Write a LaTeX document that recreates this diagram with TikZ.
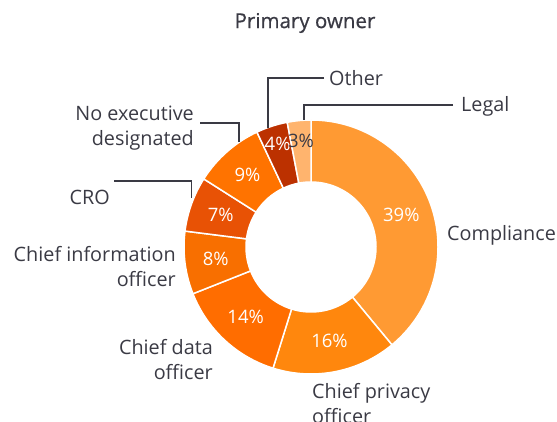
\documentclass[tikz,border=0pt]{standalone}
\usepackage{fontspec}
\setmainfont{Open Sans}
\usetikzlibrary{positioning}
\definecolor{inkgray}{HTML}{3A3A44}
\definecolor{complcol}{HTML}{FF9A33}
\definecolor{privcol}{HTML}{FF870D}
\definecolor{datacol}{HTML}{FF6D00}
\definecolor{ciocol}{HTML}{F86F00}
\definecolor{crocol}{HTML}{E85205}
\definecolor{noexeccol}{HTML}{FF7300}
\definecolor{othercol}{HTML}{BC3100}
\definecolor{legalcol}{HTML}{FFB46E}
\tikzset{slice/.style={draw=white,line width=1.5pt,line join=round}}
\tikzset{pct/.style={text=white,inner sep=0pt,
font=\fontsize{18.5}{22}\selectfont}}
\tikzset{lbl/.style={text=inkgray,inner sep=0pt,
font=\fontsize{19.8}{25}\selectfont}}
\tikzset{leader/.style={draw=inkgray,line width=1.2pt}}

\begin{document}
\begin{tikzpicture}[x=1pt,y=1pt]
    \useasboundingbox (0,0) rectangle (557,421);

    \node[lbl,font=\fontsize{20.5}{25}\selectfont\addfontfeature{FakeBold=0.6}] (title) at (305,398) {Primary owner};

    \begin{scope}[shift={(311,174)}]
        \filldraw[slice,fill=complcol] (90:127) arc[start angle=90,end angle=-50.4,radius=127]
            -- (-50.4:65) arc[start angle=-50.4,end angle=90,radius=65] -- cycle;
        \filldraw[slice,fill=privcol] (-50.4:127) arc[start angle=-50.4,end angle=-107.4,radius=127]
            -- (-107.4:65) arc[start angle=-107.4,end angle=-50.4,radius=65] -- cycle;
        \filldraw[slice,fill=datacol] (-107.4:127) arc[start angle=-107.4,end angle=-158.4,radius=127]
            -- (-158.4:65) arc[start angle=-158.4,end angle=-107.4,radius=65] -- cycle;
        \filldraw[slice,fill=ciocol] (-158.4:127) arc[start angle=-158.4,end angle=-187.2,radius=127]
            -- (-187.2:65) arc[start angle=-187.2,end angle=-158.4,radius=65] -- cycle;
        \filldraw[slice,fill=crocol] (-187.2:127) arc[start angle=-187.2,end angle=-212.4,radius=127]
            -- (-212.4:65) arc[start angle=-212.4,end angle=-187.2,radius=65] -- cycle;
        \filldraw[slice,fill=noexeccol] (-212.4:127) arc[start angle=-212.4,end angle=-244.8,radius=127]
            -- (-244.8:65) arc[start angle=-244.8,end angle=-212.4,radius=65] -- cycle;
        \filldraw[slice,fill=othercol] (-244.8:127) arc[start angle=-244.8,end angle=-259.2,radius=127]
            -- (-259.2:65) arc[start angle=-259.2,end angle=-244.8,radius=65] -- cycle;
        \filldraw[slice,fill=legalcol] (-259.2:127) arc[start angle=-259.2,end angle=-270,radius=127]
            -- (-270:65) arc[start angle=-270,end angle=-259.2,radius=65] -- cycle;

        \node[pct] (pctcompl) at (19.8:96) {39\%};
        \node[pct] (pctpriv) at (-78.9:96) {16\%};
        \node[pct] (pctdata) at (-132.9:96) {14\%};
        \node[pct] (pctcio) at (-172.8:96) {8\%};
        \node[pct] (pctcro) at (-199.8:96) {7\%};
        \node[pct] (pctnoexec) at (-228.6:96) {9\%};
        \node[pct] (pctother) at (-252:108) {4\%};
        \node[pct,text=inkgray] (pctlegal) at (-264.6:107) {3\%};

        \coordinate (legalpt) at (93.2:127);
        \coordinate (otherpt) at (109.8:127);
        \coordinate (noexecpt) at (124.5:127);
        \coordinate (cropt) at (157.6:129);
    \end{scope}

    % labels round the ring
    \node[lbl,anchor=west] (legal) at (461,314.5) {Legal};
    \node[lbl,anchor=west] (other) at (329,343) {Other};
    \node[lbl,anchor=north east,align=right] (noexec) at (194,315.5) {No executive\\designated};
    \node[lbl,anchor=east] (cro) at (110,224) {CRO};
    \node[lbl,anchor=north east,align=right] (cio) at (176,175) {Chief information\\officer};
    \node[lbl,anchor=north east,align=right] (data) at (213,82) {Chief data\\officer};
    \node[lbl,anchor=north west,align=left] (priv) at (312,38) {Chief privacy\\officer};
    \node[lbl,anchor=west] (compl) at (447,185.5) {Compliance};

    % leaders
    \draw[leader] ([shift={(-8pt,1.5pt)}]legal.west) -| (legalpt);
    \draw[leader] ([xshift=-5pt]other.west) -| (otherpt);
    \draw[leader] (noexec.north east |- 0,298) ++(6pt,0) -| (noexecpt);
    \draw[leader] ([shift={(4pt,16pt)}]cro.east) -| (cropt);

\end{tikzpicture}
\end{document}
